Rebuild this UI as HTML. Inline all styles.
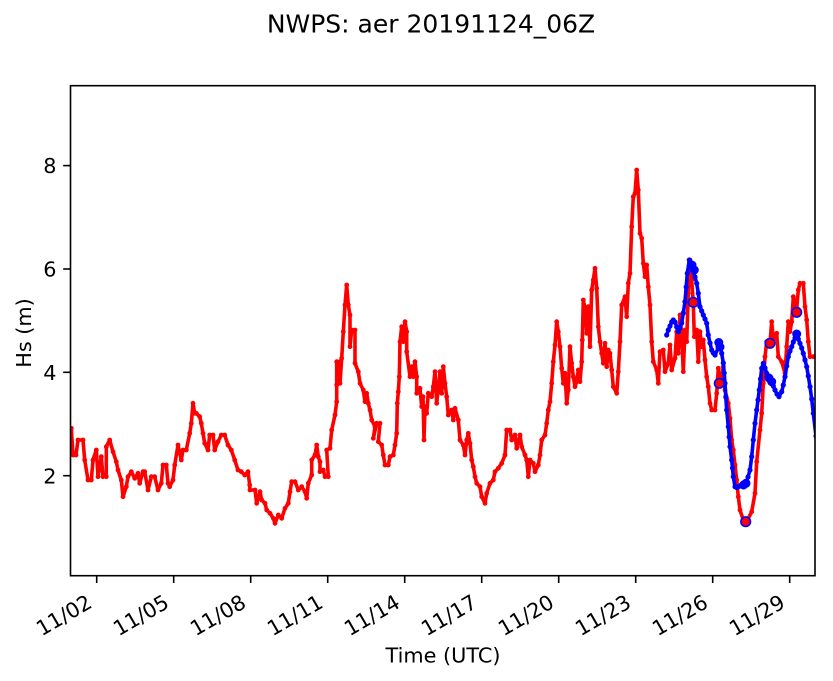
<!DOCTYPE html>
<html>
<head>
<meta charset="utf-8">
<style>
html,body{margin:0;padding:0;background:#fff;}
svg{display:block;}
text{font-family:"DejaVu Sans","Liberation Sans",sans-serif;fill:#000;}
</style>
</head>
<body>
<svg width="833" height="681" viewBox="0 0 833 681" xmlns="http://www.w3.org/2000/svg">
<rect x="0" y="0" width="833" height="681" fill="#fff"/>
<defs>
<clipPath id="ax"><rect x="70.5" y="85.7" width="744.5" height="490"/></clipPath>
<marker id="mr" markerUnits="userSpaceOnUse" markerWidth="8" markerHeight="8" refX="4" refY="4" viewBox="0 0 8 8"><circle cx="4" cy="4" r="2.4" fill="#ff0000"/></marker>
<marker id="mb" markerUnits="userSpaceOnUse" markerWidth="8" markerHeight="8" refX="4" refY="4" viewBox="0 0 8 8"><circle cx="4" cy="4" r="2.6" fill="#0000ff"/></marker>
</defs>

<text x="431" y="32.3" font-size="25" text-anchor="middle">NWPS: aer 20191124_06Z</text>

<g clip-path="url(#ax)">
<polyline fill="none" stroke="#ff0000" stroke-width="3.6" stroke-linejoin="round" stroke-linecap="round" marker-start="url(#mr)" marker-mid="url(#mr)" marker-end="url(#mr)" points="
71.3,428.3 73,455 76,455 78,440 83,440 84.7,460 88,480 91.3,480 93,460 96.3,450 98,476.7 101.3,456.7 103,476.7 106.3,476.7 106.3,446.7 109.7,440 113,451.7 116.3,461.7 118,470 121.3,480 123,496.7 126.3,486.7 128,476.7 131.3,471.7 134.7,478.3 138,473.3 139.7,483.3 143,471.7 144.7,471.7 148,490 151.3,476.7 154.7,476.7 158,490 161.3,483.3 163,465 166.3,465 168,483.3 169.7,486.7 173,480 174.7,465 178,445 181.3,460 183,450 186.3,450 189.7,433.3 191.3,423.3 193,403.3 194.7,413.3 196.3,413.3 199.7,416.7 201.3,423.3 203,433.3 204.7,443.3 208,450 209.7,435 213,435 214.7,450 218,441.7 221.3,435 224.7,435 228,445 231.3,450 234.7,460 238,470 241.3,471.7 244.7,475 248,471.7 249.7,485
250,490 255,490 256.7,503.3 260,491.7 261.7,500 265,503.3 266.7,510 270,513.3 273.3,518.3 275,523.3 278.3,515 281.7,518.3 285,508.3 288.3,503.3 290,491.7 291.7,481.7 295,481.7 298.3,490 301.7,486.7 305,491.7 306.7,498.3 308.3,483.3 311.7,475 311.7,460 315,455 316.7,445 318.3,456.7 320,461.7 320,471.7 323.3,470 325,476.7 328.3,476.7 326.7,450 330,448.3 331.7,430 335,415 336.7,401.7 336.7,385 336.7,361.7 340,361.7 340,383.3 341.7,358.3 343.3,331.7 345,305 346.7,285 348.3,305 350,315 350,346.7 351.7,330 355,330 355,363.3 358.3,371.7 360,383.3 363.3,390 365,401.7 366.7,393.3 368.3,403.3 370,410 371.7,420 375,426.7 373.3,438.3 376.7,423.3 380,423.3 378.3,441.7 381.7,445 383.3,455 385,465 388.3,465 390,456.7 393.3,455 395,445 396.7,433.3 397.3,403.3 398.3,391.7 399.3,376.7 400,341.7 401.7,326.7 403.3,341.7 405,321.7 406.7,331.7 406.7,351.7 410,376.7 411.7,366.7 413.3,376.7 415,361.7 416.7,376.7 416.7,393.3 420,388.3
421.7,406.7 423,396.7 424,440 425,406.7 426.7,413.3 428.3,393.3 431.7,396.7 433.3,386.7 435,371.7 436.7,403.3 440,371.7 441.7,393.3 443.3,366.7 445,383.3 446.7,396.7 448.3,415 451.7,410 453.3,420 455,408.3 458.3,420 460,440 463.3,445 465,455 466.7,440 468.3,433.3 470,443.3 471.7,460 473.3,466.7 475,476.7 476.7,483.3 480,486.7 481.7,496.7 485,503.3 486.7,493.3 490,483.3 493.3,480 495,471.7 498.3,468.3 501.7,463.3 505,455 506.7,430 510,430 511.7,440 515,435 516.7,448.3 520,435 521.7,446.7 525,455 526.7,460 528.3,476.7 530,460 533.3,463.3 535,471.7 538.3,465 540,455 541.7,440 545,435 546.7,423.3 548.3,410 550,401.7 551.7,383.3 553.3,361.7 555,345 556.7,321.7 558.3,331.7 560,346.7 561.7,368.3 563.3,383.3 565,373.3 566.7,403.3 568.3,390 570,346.7 571.7,363.3 573.3,376.7 575,386.7 576.7,381.7 578.3,370 580,381.7 581.7,361.7 582.3,340 583.3,300 585,308.3 586.7,333.3 588.3,306.7 590,346.7 591.7,290 593.3,280 595,268.3 596.7,288.3 598.3,326.7 600,341.7 601.7,353.3 603.3,363.3 605,343.3 606.7,366.7 608.3,350
610,353.3 611.7,370 613.3,386.7 616.7,393.3 618.3,371.7 620,341.7 621.7,305 625,296.7 626.7,316.7 628.3,283.3 630,273.3 631.7,226.7 633.3,196.7 635,193.3 636.7,170 638.3,190 640,233.3 641.7,238.3 643.3,263.3 645,276.7 646.7,265 648.3,286.7 650,305 651.7,341.7 653.3,361.7 656.7,370 658.3,383.3 660,351.7 663.3,350 665,371.7 668.3,363.3 670,345 671.7,370 675,358.3 676.7,331.7 678.3,353.3 680,315 681.7,336.7 683.3,371.7 685,330 686.7,341.7 688.3,293.3 690,260 691.7,280 693.3,303.3 694.3,336.7 696.7,330 698.3,361.7 700,331.7 701.7,346.7 703.3,340 705,360 706.7,376.7 708.3,386.7 710,403.3 711.7,410 715,410 716.7,393.3 718.3,368.3 720,383.3 721.7,376.7 723.3,366.7 725,390 728.3,403.3 730,418.3 731.7,440 733.3,450 735,465 736.7,480 738.3,496.7 740,510 743.3,520 746.7,521.7 751.7,511.7 755,493.3 756.7,461.7 760,430 761.7,413.3 763.3,383.3 765,356.7 766.7,341.7 770,343.3 771.7,321.7 773.3,340 776.7,333.3 778.3,356.7 781.7,361.7 785,373.3 786.7,346.7 788.3,321.7 790,331.7 791.7,321.7 793.3,296.7 796.7,308.3 798.3,290 800,283.3 803.3,283.3 805,306.7 806.7,320 808.3,341.7 810,356.7 813.3,356.7 816,356.7"/>

<polyline fill="none" stroke="#0000ff" stroke-width="3.6" stroke-linejoin="round" stroke-linecap="round" marker-start="url(#mb)" marker-mid="url(#mb)" marker-end="url(#mb)" points="
666.7,335 668.3,330 670,326 671.7,322 673.3,320 675,322 676.7,327 678.3,331.7 680,328 681.7,323 683.3,313 685,301.7 686.2,287 687.3,273.3 689.3,260 691.7,264 693.3,270 695,277 696.7,283.3 698.3,293.3 700,306.7 701.7,311 703.3,315 705,319 706.7,323.3 708.3,335 710,343 711.7,350 713.3,353 715,355 718.3,348 719.3,342.7 720.5,346 721.7,353.3 723.3,363 724.2,373 725,383.3 725.8,397 726.7,410 728.3,426.7 729.2,437 730,446.7 731.7,460 732.5,468 733.3,476.7 735,486.7 736.7,487.5 738.3,486.7 740,486 741.7,485 743.8,484 746,483.3 748,477 750,470 751.7,456.7 753.3,440 755,423.3 756.7,410 758,400 759.3,390 760.5,379 761.7,368.3 763.3,363.3 765,368 766.7,373.3 769,378 771.7,381.7 773.3,386 775,390 777,394 779,396.7 781.7,391.7 783.3,385 785,376.7 786.7,366 788.3,356.7 790,351 791.7,346.7 793.3,342 795,338 796.7,335 798.3,339 800,343.3 801.7,348 803.3,353.3 805,360 806.7,366.7 808.3,376 810,386.7 811.7,399 813.3,413.3 816,436"/>

<g fill="#0000ff">
<circle cx="692" cy="265" r="4.5"/>
<circle cx="694.3" cy="270" r="4.5"/>
<circle cx="718.8" cy="342.5" r="4.5"/>
<circle cx="720" cy="347" r="4.5"/>
<circle cx="743.5" cy="485" r="4.5"/>
<circle cx="746" cy="483.3" r="4.5"/>
<circle cx="769" cy="378" r="4.5"/>
<circle cx="771.7" cy="381.7" r="4.5"/>
<circle cx="796.7" cy="334" r="4.5"/>
</g>
<g fill="#ff0000" stroke="#0000ff" stroke-width="1.6">
<circle cx="693.3" cy="302.3" r="4.8"/>
<circle cx="719.3" cy="383.3" r="4.8"/>
<circle cx="745.7" cy="521.7" r="4.8"/>
<circle cx="770" cy="343.3" r="4.8"/>
<circle cx="796.7" cy="312.3" r="4.8"/>
</g>
</g>

<rect x="70.5" y="85.7" width="744.5" height="490" fill="none" stroke="#000" stroke-width="1.6"/>

<g stroke="#000" stroke-width="1.6">
<line x1="63.2" y1="475.7" x2="70.5" y2="475.7"/>
<line x1="63.2" y1="372.3" x2="70.5" y2="372.3"/>
<line x1="63.2" y1="269" x2="70.5" y2="269"/>
<line x1="63.2" y1="165.6" x2="70.5" y2="165.6"/>
<line x1="96.7" y1="575.7" x2="96.7" y2="583"/>
<line x1="173.7" y1="575.7" x2="173.7" y2="583"/>
<line x1="250.7" y1="575.7" x2="250.7" y2="583"/>
<line x1="327.7" y1="575.7" x2="327.7" y2="583"/>
<line x1="404.7" y1="575.7" x2="404.7" y2="583"/>
<line x1="481.7" y1="575.7" x2="481.7" y2="583"/>
<line x1="558.7" y1="575.7" x2="558.7" y2="583"/>
<line x1="635.7" y1="575.7" x2="635.7" y2="583"/>
<line x1="712.7" y1="575.7" x2="712.7" y2="583"/>
<line x1="789.7" y1="575.7" x2="789.7" y2="583"/>
</g>

<g font-size="20.8" text-anchor="end">
<text x="56.5" y="483.3">2</text>
<text x="56.5" y="379.9">4</text>
<text x="56.5" y="276.6">6</text>
<text x="56.5" y="173.2">8</text>
</g>

<g font-size="20.8" text-anchor="end">
<text transform="translate(93.5,606.5) rotate(-30)">11/02</text>
<text transform="translate(170.5,606.5) rotate(-30)">11/05</text>
<text transform="translate(247.5,606.5) rotate(-30)">11/08</text>
<text transform="translate(324.5,606.5) rotate(-30)">11/11</text>
<text transform="translate(401.5,606.5) rotate(-30)">11/14</text>
<text transform="translate(478.5,606.5) rotate(-30)">11/17</text>
<text transform="translate(555.5,606.5) rotate(-30)">11/20</text>
<text transform="translate(632.5,606.5) rotate(-30)">11/23</text>
<text transform="translate(709.5,606.5) rotate(-30)">11/26</text>
<text transform="translate(786.5,606.5) rotate(-30)">11/29</text>
</g>

<text x="443" y="662.5" font-size="20.8" text-anchor="middle">Time (UTC)</text>
<text transform="translate(31,333) rotate(-90)" font-size="20.8" text-anchor="middle">Hs (m)</text>
</svg>
</body>
</html>
